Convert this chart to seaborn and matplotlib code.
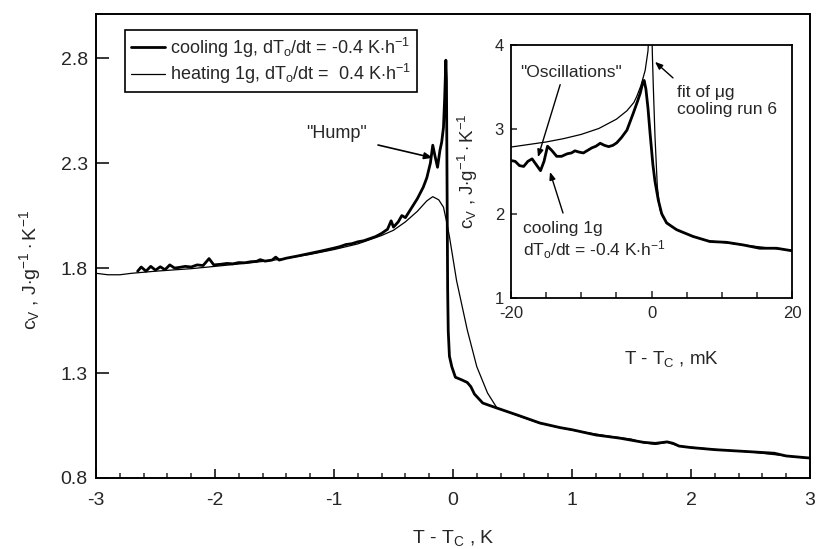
import numpy as np
import pandas as pd
import matplotlib
matplotlib.use("Agg")
import matplotlib.pyplot as plt
import seaborn as sns
from matplotlib.ticker import MultipleLocator, FixedLocator

# ---------------- data ----------------
cool_x = [-2.65, -2.62, -2.58, -2.54, -2.50, -2.46, -2.42, -2.38, -2.34, -2.30,
          -2.25, -2.20, -2.15, -2.10, -2.05, -2.01, -1.95, -1.90, -1.85, -1.80,
          -1.75, -1.70, -1.65, -1.62, -1.58, -1.52, -1.49, -1.46, -1.40, -1.30,
          -1.20, -1.10, -1.00, -0.95, -0.90, -0.85, -0.80, -0.75, -0.70, -0.65,
          -0.60, -0.55, -0.52, -0.50, -0.46, -0.43, -0.40, -0.35, -0.30, -0.25,
          -0.22, -0.19, -0.17, -0.15, -0.13, -0.11, -0.095, -0.08, -0.07, -0.06,
          -0.055, -0.05, -0.045, -0.04, -0.03, -0.01, 0.02, 0.075, 0.12, 0.15,
          0.18, 0.25, 0.37, 0.54, 0.73, 0.90, 1.00, 1.20, 1.40, 1.60,
          1.70, 1.80, 1.85, 1.90, 2.00, 2.20, 2.50, 2.70, 2.80, 3.00]
cool_y = [1.785, 1.805, 1.785, 1.808, 1.790, 1.806, 1.792, 1.815, 1.800, 1.803,
          1.808, 1.805, 1.815, 1.812, 1.845, 1.815, 1.818, 1.822, 1.820, 1.826,
          1.825, 1.830, 1.832, 1.840, 1.833, 1.838, 1.852, 1.838, 1.847, 1.858,
          1.870, 1.882, 1.895, 1.902, 1.912, 1.916, 1.925, 1.930, 1.940, 1.950,
          1.965, 1.985, 2.025, 1.995, 2.020, 2.050, 2.040, 2.085, 2.130, 2.185,
          2.230, 2.300, 2.385, 2.330, 2.280, 2.360, 2.400, 2.470, 2.610, 2.790,
          2.700, 2.200, 1.700, 1.500, 1.380, 1.330, 1.280, 1.267, 1.255, 1.235,
          1.200, 1.157, 1.133, 1.100, 1.062, 1.040, 1.030, 1.005, 0.990, 0.970,
          0.965, 0.972, 0.965, 0.952, 0.945, 0.935, 0.925, 0.918, 0.905, 0.895]

heat_x = [-3.0, -2.9, -2.8, -2.7, -2.5, -2.2, -2.0, -1.7, -1.5, -1.2,
          -1.0, -0.8, -0.6, -0.5, -0.4, -0.3, -0.22, -0.17, -0.12, -0.08,
          -0.05, -0.03, 0.03, 0.12, 0.20, 0.29, 0.37, 0.54, 0.73, 1.0,
          1.3, 1.5, 1.6, 1.7, 1.8, 1.9, 2.2, 2.5, 2.8, 3.0]
heat_y = [1.775, 1.768, 1.768, 1.775, 1.785, 1.797, 1.808, 1.825, 1.838, 1.865,
          1.888, 1.915, 1.955, 1.980, 2.020, 2.070, 2.120, 2.140, 2.125, 2.090,
          2.010, 1.950, 1.740, 1.505, 1.330, 1.205, 1.133, 1.098, 1.060, 1.028,
          1.000, 0.985, 0.968, 0.960, 0.970, 0.952, 0.936, 0.924, 0.905, 0.893]

# inset (mK)
ins_cool_x = [-20, -19.4, -18.8, -18.2, -17.6, -17.0, -16.4, -15.8, -15.3, -14.8,
              -14.2, -13.5, -12.8, -12.0, -11.4, -10.9, -10.3, -9.7, -9.1, -8.5,
              -7.9, -7.3, -6.7, -6.1, -5.5, -4.95, -4.3, -3.5, -2.6, -2.0,
              -1.6, -1.25, -1.05, -0.8, -0.5, -0.2, 0.2, 0.5, 0.97, 1.45,
              2.15, 3.57, 5.9, 8.3, 10.7, 13.0, 15.4, 17.8, 20]
ins_cool_y = [2.63, 2.62, 2.57, 2.56, 2.62, 2.65, 2.58, 2.51, 2.62, 2.80,
              2.75, 2.68, 2.68, 2.71, 2.72, 2.745, 2.73, 2.72, 2.75, 2.78,
              2.80, 2.835, 2.81, 2.795, 2.81, 2.84, 2.90, 2.99, 3.19, 3.33,
              3.43, 3.55, 3.58, 3.48, 3.25, 2.95, 2.58, 2.38, 2.16, 2.00,
              1.89, 1.81, 1.73, 1.67, 1.66, 1.63, 1.59, 1.59, 1.56]

fit_x = [-20, -17.5, -15, -12.5, -10, -7.5, -5, -3.5, -2.5, -2.1,
         -1.5, -0.9, -0.5, -0.3, 0.02, 0.12, 0.26, 0.5, 0.83, 1.2,
         1.6, 2.15, 3.0, 4.0, 6.0, 8.0, 10, 13, 16, 20]
fit_y = [2.79, 2.82, 2.85, 2.89, 2.94, 3.01, 3.12, 3.22, 3.32, 3.39,
         3.52, 3.70, 3.93, 4.25, 4.30, 3.90, 3.50, 2.91, 2.32, 2.05,
         1.96, 1.90, 1.84, 1.79, 1.73, 1.68, 1.66, 1.63, 1.60, 1.565]

main_yticks = [0.8, 1.3, 1.8, 2.3, 2.8]
main_xticks = [-3, -2, -1, 0, 1, 2, 3]
inset_xticks = [-20, 0, 20]
inset_yticks = [1, 2, 3, 4]

# ---------------- style ----------------
sns.set_style("ticks")
FONT = ["Liberation Sans", "DejaVu Sans"]
plt.rcParams["font.family"] = FONT
plt.rcParams["mathtext.fontset"] = "custom"
plt.rcParams["mathtext.rm"] = "Liberation Sans"
plt.rcParams["mathtext.it"] = "Liberation Sans"
plt.rcParams["mathtext.bf"] = "Liberation Sans:bold"
plt.rcParams["axes.linewidth"] = 1.4

fig = plt.figure(figsize=(8.17, 5.49), dpi=100)
ax = fig.add_axes([96/817, 1-478/549, (810-96)/817, (478-14)/549])

df_cool = pd.DataFrame({"x": cool_x, "y": cool_y})
df_heat = pd.DataFrame({"x": heat_x, "y": heat_y})
sns.lineplot(data=df_cool, x="x", y="y", ax=ax, color="black", lw=2.0,
             sort=False, estimator=None,
             label=r"cooling 1g, d$T_o$/dt = -0.4 K$\cdot$h$^{-1}$")
sns.lineplot(data=df_heat, x="x", y="y", ax=ax, color="black", lw=0.9,
             sort=False, estimator=None,
             label=r"heating 1g, d$T_o$/dt =  0.4 K$\cdot$h$^{-1}$")

ax.set_xlim(-3, 3)
ax.set_ylim(0.8, 3.01)
ax.set_xticks(main_xticks)
ax.set_xticklabels([str(t) for t in main_xticks])
ax.xaxis.set_minor_locator(MultipleLocator(0.2))
ax.set_yticks(main_yticks)
ax.set_yticklabels([f"{t:.1f}" for t in main_yticks])
ax.tick_params(axis="x", which="major", direction="in", length=6.5, width=1.3,
               labelsize=14, pad=10, top=False)
ax.tick_params(axis="x", which="minor", direction="in", length=3.5, width=1.1, top=False)
ax.tick_params(axis="y", which="major", direction="in", length=9.5, width=1.3,
               labelsize=14, pad=6, right=False)
for s in ax.spines.values():
    s.set_visible(True)
    s.set_linewidth(1.4)
    s.set_color("black")

ax.set_xlabel(r"T - T$_\mathrm{C}$ , K", fontsize=14)
ax.xaxis.set_label_coords(0.5, -0.108)
ax.xaxis.label.set_va("top")
ax.set_ylabel(r"c$_\mathrm{V}$ , J$\cdot$g$^{-1}\cdot$K$^{-1}$", fontsize=14)
ax.yaxis.set_label_coords(-0.092, 0.448)
ax.yaxis.label.set_va("center")

leg = ax.legend(loc="upper left", bbox_to_anchor=(0.041, 0.9655), fontsize=13,
                frameon=True, fancybox=False, framealpha=1, edgecolor="black",
                handlelength=1.9, handletextpad=0.3, borderpad=0.3,
                labelspacing=0.15, borderaxespad=0)
leg.get_frame().set_linewidth(1.2)

ax.text(-0.975, 2.443, '"Hump"', fontsize=13, ha="center", va="center")
ax.annotate("", xy=(-0.17, 2.325), xytext=(-0.63, 2.386),
            arrowprops=dict(arrowstyle="-|>,head_length=0.5,head_width=0.2",
                            color="black", lw=1.2, shrinkA=0, shrinkB=0))

# ---------------- inset ----------------
axi = fig.add_axes([511/817, 1-298/549, (792-511)/817, (298-45)/549])
df_ic = pd.DataFrame({"x": ins_cool_x, "y": ins_cool_y})
df_fit = pd.DataFrame({"x": fit_x, "y": fit_y})
sns.lineplot(data=df_fit, x="x", y="y", ax=axi, color="black", lw=0.9,
             sort=False, estimator=None)
sns.lineplot(data=df_ic, x="x", y="y", ax=axi, color="black", lw=2.0,
             sort=False, estimator=None)
axi.set_xlim(-20, 20)
axi.set_ylim(1, 4)
axi.xaxis.set_major_locator(FixedLocator(inset_xticks))
axi.set_xticklabels([str(t) for t in inset_xticks])
axi.xaxis.set_minor_locator(MultipleLocator(5))
axi.set_yticks(inset_yticks)
axi.set_yticklabels([str(t) for t in inset_yticks])
axi.tick_params(axis="x", which="major", direction="in", length=5, width=1.1,
                labelsize=12, pad=6, top=False)
axi.tick_params(axis="x", which="minor", direction="in", length=4, width=1.1, top=False)
axi.tick_params(axis="y", which="major", direction="in", length=4.5, width=1.1,
                labelsize=12, pad=5, right=False)
for s in axi.spines.values():
    s.set_visible(True)
    s.set_linewidth(1.3)
    s.set_color("black")
axi.set_xlabel(r"T - T$_\mathrm{C}$ , mK", fontsize=13.5)
axi.xaxis.set_label_coords(0.57, -0.2)
axi.xaxis.label.set_va("top")
axi.set_ylabel(r"c$_\mathrm{V}$ , J$\cdot$g$^{-1}\cdot$K$^{-1}$", fontsize=13.5)
axi.yaxis.set_label_coords(-0.11, 0.5)

arw = dict(arrowstyle="-|>,head_length=0.45,head_width=0.18", color="black",
           lw=1.0, shrinkA=0, shrinkB=0)
axi.text(-11.46, 3.668, '"Oscillations"', fontsize=12.5, ha="center", va="center")
axi.annotate("", xy=(-16.16, 2.67), xytext=(-13.0, 3.53), arrowprops=arw)
axi.text(3.63, 3.336, "fit of \u03bcg\ncooling run 6", fontsize=12.5,
         ha="left", va="center", linespacing=1.15)
axi.annotate("", xy=(0.5, 3.8), xytext=(3.06, 3.61), arrowprops=arw)
axi.text(-18.3, 1.676, "cooling 1g\n" + r"d$T_o$/dt = -0.4 K$\cdot$h$^{-1}$",
         fontsize=12.5, ha="left", va="center", linespacing=1.15)
axi.annotate("", xy=(-14.45, 2.494), xytext=(-12.6, 2.008), arrowprops=arw)

fig.savefig("out.png", dpi=100)
